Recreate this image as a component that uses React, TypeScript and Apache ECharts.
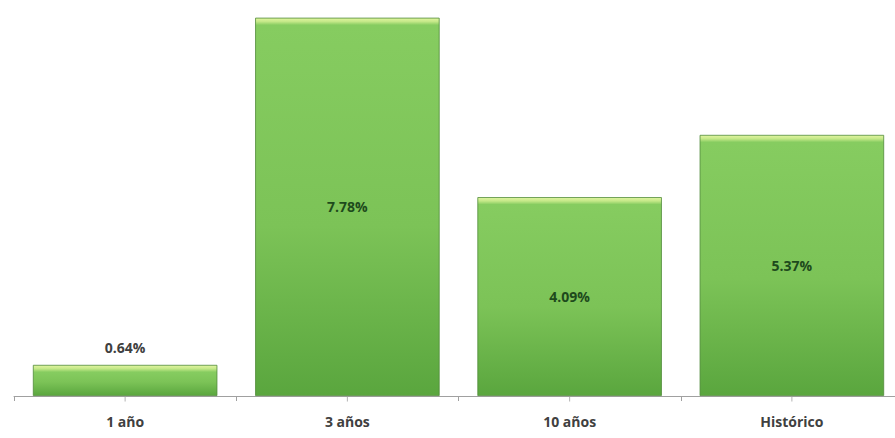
import React, { useEffect, useRef } from "react";
import * as echarts from "echarts";

const categories = ["1 año", "3 años", "10 años", "Histórico"];
const values = [0.64, 7.78, 4.09, 5.37];

const PX_PER_UNIT = 48.6;

export default function App() {
  const ref = useRef<HTMLDivElement>(null);
  useEffect(() => {
    const chart = echarts.init(ref.current!, null, { renderer: "svg" });
    const font = "'Open Sans', 'DejaVu Sans', sans-serif";
    const data = values.map((v, i) => {
      const h = v * PX_PER_UNIT;
      const hi = Math.min(0.5, 7 / h);
      return {
        value: v,
        itemStyle: {
          color: new echarts.graphic.LinearGradient(0, 0, 0, 1, [
            { offset: 0, color: "#e2f5a0" },
            { offset: hi * 0.5, color: "#c4e888" },
            { offset: hi, color: "#86cc60" },
            { offset: 0.55, color: "#7cc357" },
            { offset: 1, color: "#5aa63e" },
          ]),
        },
        label:
          i === 0
            ? { position: "top", color: "#404040", distance: 10 }
            : { position: "inside", color: "#1e4a1c" },
      };
    });
    chart.setOption({
      animation: false,
      grid: {
        left: 14,
        top: 7,
        width: 889,
        height: 389,
        containLabel: false,
        outerBoundsMode: "none",
      },
      xAxis: {
        type: "category",
        data: categories,
        axisLine: { lineStyle: { color: "#a0a0a0", width: 1 } },
        axisTick: { show: true, length: 5, lineStyle: { color: "#a0a0a0" } },
        axisLabel: {
          color: "#404040",
          fontSize: 14,
          fontWeight: "bold",
          fontFamily: font,
          margin: 18,
        },
      },
      yAxis: {
        type: "value",
        min: 0,
        max: 8,
        show: false,
        splitLine: { show: false },
      },
      series: [
        {
          type: "bar",
          data,
          barCategoryGap: "17%",
          z: 2,
          itemStyle: { borderColor: "#4f8a38", borderWidth: 0.8 },
          label: {
            show: true,
            fontSize: 14,
            fontWeight: "bold",
            fontFamily: font,
            formatter: (p: any) => p.value.toFixed(2) + "%",
          },
        },
        {
          type: "scatter",
          data: categories.map((c) => [c, 0]),
          symbol: "rect",
          symbolSize: [1, 5],
          symbolOffset: [0, 3],
          clip: false,
          silent: true,
          z: 5,
          itemStyle: { color: "#a0a0a0" },
          label: { show: false },
        },
      ],
    });
    return () => chart.dispose();
  }, []);
  return <div ref={ref} style={{ width: 895, height: 438, position: "absolute", left: 0, top: 0 }} />;
}
